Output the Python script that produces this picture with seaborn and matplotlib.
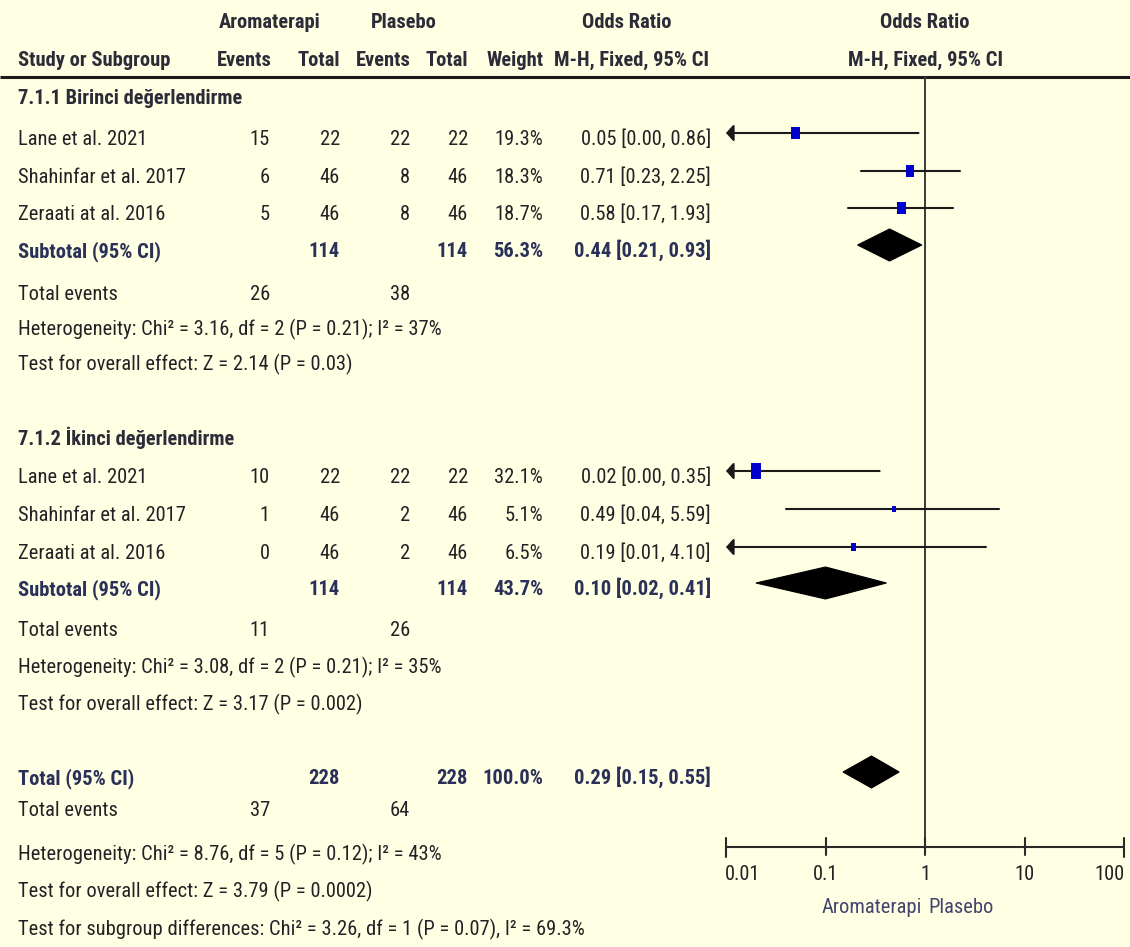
import numpy as np
import pandas as pd
import matplotlib
matplotlib.use("Agg")
import matplotlib.pyplot as plt
import seaborn as sns
from matplotlib import font_manager
from matplotlib.patches import Polygon

# ---------------- data ----------------
studies = ["Lane et al. 2021", "Shahinfar et al. 2017", "Zeraati at al. 2016"]
groups = ["7.1.1 Birinci değerlendirme", "7.1.2 İkinci değerlendirme"]

ev_arom_1 = [15, 6, 5]
tot_arom_1 = [22, 46, 46]
ev_plas_1 = [22, 8, 8]
tot_plas_1 = [22, 46, 46]
weight_1 = [19.3, 18.3, 18.7]
or_1 = [0.05, 0.71, 0.58]
lo_1 = [0.00, 0.23, 0.17]
hi_1 = [0.86, 2.25, 1.93]

ev_arom_2 = [10, 1, 0]
tot_arom_2 = [22, 46, 46]
ev_plas_2 = [22, 2, 2]
tot_plas_2 = [22, 46, 46]
weight_2 = [32.1, 5.1, 6.5]
or_2 = [0.02, 0.49, 0.19]
lo_2 = [0.00, 0.04, 0.01]
hi_2 = [0.35, 5.59, 4.10]

# subtotal / total: [tot_arom, tot_plas, weight, or, lo, hi]
sub_1 = [114, 114, 56.3, 0.44, 0.21, 0.93]
sub_2 = [114, 114, 43.7, 0.10, 0.02, 0.41]
total = [228, 228, 100.0, 0.29, 0.15, 0.55]

tot_events_1 = [26, 38]
tot_events_2 = [11, 26]
tot_events_all = [37, 64]

het_1 = "Heterogeneity: Chi² = 3.16, df = 2 (P = 0.21); I² = 37%"
eff_1 = "Test for overall effect: Z = 2.14 (P = 0.03)"
het_2 = "Heterogeneity: Chi² = 3.08, df = 2 (P = 0.21); I² = 35%"
eff_2 = "Test for overall effect: Z = 3.17 (P = 0.002)"
het_all = "Heterogeneity: Chi² = 8.76, df = 5 (P = 0.12); I² = 43%"
eff_all = "Test for overall effect: Z = 3.79 (P = 0.0002)"
subdiff = "Test for subgroup differences: Chi² = 3.26, df = 1 (P = 0.07), I² = 69.3%"

tick_vals = [0.01, 0.1, 1, 10, 100]
tick_labels = ["0.01", "0.1", "1", "10", "100"]
favours = ["Aromaterapi", "Plasebo"]

# ---------------- style ----------------
sns.set_theme(style="white")
names = {f.name for f in font_manager.fontManager.ttflist}
if "Liberation Sans Narrow" in names:
    FAM, FS = "Liberation Sans Narrow", 15.5
elif "Roboto Condensed" in names:
    FAM, FS = "Roboto Condensed", 14.8
else:
    FAM, FS = "Liberation Sans", 13.0
plt.rcParams["font.family"] = [FAM, "DejaVu Sans"]

BG = "#FFFFE4"
TXT = "#222226"
SUMC = "#2a3058"
HDR = "#2c2c38"
BLUE = "#0000CC"

W, H = 1130, 947
fig = plt.figure(figsize=(W / 100, H / 100), dpi=100, facecolor=BG)
tax = fig.add_axes([0, 0, 1, 1])
tax.set_xlim(0, W)
tax.set_ylim(H, 0)
tax.axis("off")
tax.set_facecolor(BG)

X0, X1 = 726, 1124
fax = fig.add_axes([X0 / W, 0, (X1 - X0) / W, 1])
fax.set_xscale("log")
fax.set_xlim(0.01, 100)
fax.set_ylim(H, 0)
fax.axis("off")
fax.patch.set_alpha(0)

OFF = 8  # baseline offset from visual centre


def t(x, y, s, ha="left", bold=False, color=TXT, size=FS):
    tax.text(x, y + OFF, s, ha=ha, va="baseline", fontsize=size,
             fontweight="bold" if bold else "normal", color=color)


# column right edges
C_EA, C_TA, C_EP, C_TP, C_W, C_CI = 270, 340, 410, 468, 543, 711

# header
t(270, 20, "Aromaterapi", ha="center", bold=True, color=HDR)
t(404, 20, "Plasebo", ha="center", bold=True, color=HDR)
t(627, 20, "Odds Ratio", ha="center", bold=True, color=HDR)
t(925, 20, "Odds Ratio", ha="center", bold=True, color=HDR)
t(18, 58, "Study or Subgroup", bold=True, color=HDR)
t(C_EA + 2, 58, "Events", ha="right", bold=True, color=HDR)
t(C_TA, 58, "Total", ha="right", bold=True, color=HDR)
t(C_EP + 1, 58, "Events", ha="right", bold=True, color=HDR)
t(C_TP, 58, "Total", ha="right", bold=True, color=HDR)
t(C_W + 1, 58, "Weight", ha="right", bold=True, color=HDR)
t(632, 58, "M-H, Fixed, 95% CI", ha="center", bold=True, color=HDR)
t(925, 58, "M-H, Fixed, 95% CI", ha="center", bold=True, color=HDR)
tax.plot([0, W], [77, 77], color="#1a1a1a", lw=2.2, solid_capstyle="butt")

# study table
marker_y_1 = [133, 171, 208]
marker_y_2 = [471, 509, 547]
sub_y = [245, 583]
total_y = 772

rows = []
for g, (ea, ta, ep, tp, w, o, l, h, ys) in enumerate([
        (ev_arom_1, tot_arom_1, ev_plas_1, tot_plas_1, weight_1, or_1, lo_1, hi_1, marker_y_1),
        (ev_arom_2, tot_arom_2, ev_plas_2, tot_plas_2, weight_2, or_2, lo_2, hi_2, marker_y_2)]):
    for i in range(3):
        rows.append(dict(group=groups[g], study=studies[i], ea=ea[i], ta=ta[i],
                         ep=ep[i], tp=tp[i], w=w[i], orr=o[i], lo=l[i], hi=h[i], y=ys[i]))
df = pd.DataFrame(rows)

for _, r in df.iterrows():
    ty = r.y + 4
    t(18, ty, r.study)
    t(C_EA, ty, f"{r.ea}", ha="right")
    t(C_TA, ty, f"{r.ta}", ha="right")
    t(C_EP, ty, f"{r.ep}", ha="right")
    t(C_TP, ty, f"{r.tp}", ha="right")
    t(C_W, ty, f"{r.w:.1f}%", ha="right")
    t(C_CI, ty, f"{r.orr:.2f} [{r.lo:.2f}, {r.hi:.2f}]", ha="right")

# group headings
t(18, 96, groups[0], bold=True, color=HDR)
t(18, 437, groups[1], bold=True, color=HDR)


def summary_row(y, label, vals):
    ta, tp, w, o, l, h = vals
    ty = y + 4
    t(18, ty, label, bold=True, color=SUMC)
    t(C_TA, ty, f"{ta}", ha="right", bold=True, color=SUMC)
    t(C_TP, ty, f"{tp}", ha="right", bold=True, color=SUMC)
    t(C_W, ty, f"{w:.1f}%", ha="right", bold=True, color=SUMC)
    t(C_CI, ty, f"{o:.2f} [{l:.2f}, {h:.2f}]", ha="right", bold=True, color=SUMC)
    dh = 16
    fax.add_patch(Polygon([(l, y), (o, y - dh), (h, y), (o, y + dh)], closed=True,
                          facecolor="black", edgecolor="black", lw=0.8, zorder=4,
                          clip_on=False))


summary_row(sub_y[0], "Subtotal (95% CI)", sub_1)
summary_row(sub_y[1], "Subtotal (95% CI)", sub_2)
summary_row(total_y, "Total (95% CI)", total)


def stats_block(ys, events, het, eff):
    t(18, ys[0], "Total events")
    t(C_EA, ys[0], f"{events[0]}", ha="right")
    t(C_EP, ys[0], f"{events[1]}", ha="right")
    t(18, ys[1], het)
    t(18, ys[2], eff)


stats_block([292, 327, 362], tot_events_1, het_1, eff_1)
stats_block([628, 665, 702], tot_events_2, het_2, eff_2)
stats_block([808, 852, 889], tot_events_all, het_all, eff_all)
t(18, 927, subdiff)

# ---------------- forest panel ----------------
# line of no effect
fax.plot([1, 1], [77, 847], color="#3a3a3a", lw=1.4, clip_on=False, zorder=2)

# CIs
for _, r in df.iterrows():
    lo = max(r.lo, 0.01)
    if r.lo <= 0.01:
        fax.annotate("", xy=(0.01, r.y), xytext=(r.hi, r.y),
                     arrowprops=dict(arrowstyle="-|>,head_length=0.32,head_width=0.36",
                                     mutation_scale=14, color="#1a1a1a", lw=1.5,
                                     shrinkA=0, shrinkB=0),
                     annotation_clip=False, zorder=3)
    else:
        fax.plot([lo, r.hi], [r.y, r.y], color="#1a1a1a", lw=1.5, clip_on=False, zorder=3)

# weighted squares (taller than wide, as in the reference)
rect = [(-0.68, -1), (0.68, -1), (0.68, 1), (-0.68, 1), (-0.68, -1)]
heights_px = 16 * np.sqrt(df["w"].to_numpy() / max(df["w"]))
sizes = (heights_px * 0.72) ** 2
sns.scatterplot(data=df, x="orr", y="y", ax=fax, marker=rect, s=sizes,
                color=BLUE, edgecolor=BLUE, linewidth=0, legend=False,
                zorder=5, clip_on=False)
fax.set_xlim(0.01, 100)
fax.set_ylim(H, 0)
fax.axis("off")

# x axis
AY = 847
fax.plot([0.01, 100], [AY, AY], color="#2a2a2a", lw=1.5, clip_on=False)
for v, lab in zip(tick_vals, tick_labels):
    half = 10 if v in (0.01, 100) else 8
    fax.plot([v, v], [AY - 9, AY + half], color="#2a2a2a", lw=1.5, clip_on=False)
    ha = "left" if v == tick_vals[0] else ("right" if v == tick_vals[-1] else "center")
    xv = v * (10 ** (-0.01)) if ha == "left" else (v * 10 ** 0.005 if ha == "right" else v)
    fax.text(xv, 872 + 8, lab, ha=ha, va="baseline", fontsize=FS, color=TXT)

fax.text(0.93, 905 + 8, favours[0], ha="right", va="baseline", fontsize=FS, color="#43436e")
fax.text(1.08, 905 + 8, favours[1], ha="left", va="baseline", fontsize=FS, color="#43436e")

fig.savefig("out.png", dpi=100, facecolor=BG)
